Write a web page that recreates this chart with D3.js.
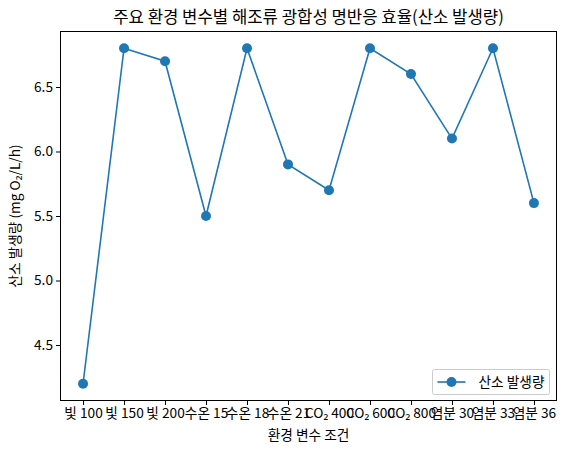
<!DOCTYPE html>
<html>
<head>
<meta charset="utf-8" />
<style>
  body { margin: 0; background: #fff; }
  text { font-family: "Noto Sans CJK KR", "Noto Sans", sans-serif; fill: #000; }
  .tick line { stroke: #000; }
  .domain { display: none; }
</style>
<script src="https://cdn.jsdelivr.net/npm/d3@7"></script>
</head>
<body>
<div id="chart"></div>
<script>
  var conditions = ['빛 100', '빛 150', '빛 200', '수온 15', '수온 18', '수온 21',
                    'CO₂ 400', 'CO₂ 600', 'CO₂ 800', '염분 30', '염분 33', '염분 36'];
  var oxygen = [4.2, 6.8, 6.7, 5.5, 6.8, 5.9, 5.7, 6.8, 6.6, 6.1, 6.8, 5.6];
  var yTicks = [4.5, 5.0, 5.5, 6.0, 6.5];

  var w = 565, h = 454;
  var mLeft = 60.5, mRight = 556.5, mTop = 31.5, mBottom = 400.5;
  var blue = '#1f77b4';

  var svg = d3.select('#chart').append('svg')
    .attr('width', w)
    .attr('height', h);

  // matplotlib style 5% margins
  var n = conditions.length;
  var x = d3.scaleLinear()
    .domain([-0.55, n - 1 + 0.55])
    .range([mLeft, mRight]);

  var ymin = d3.min(oxygen), ymax = d3.max(oxygen), pad = (ymax - ymin) * 0.05;
  var y = d3.scaleLinear()
    .domain([ymin - pad, ymax + pad])
    .range([mBottom, mTop]);

  var xAxis = svg.append('g')
    .attr('transform', 'translate(0,' + mBottom + ')')
    .call(d3.axisBottom(x)
      .tickValues(d3.range(n))
      .tickFormat(i => conditions[i])
      .tickSize(4.5)
      .tickPadding(3));
  xAxis.selectAll('text').style('font-size', '13.7px');

  var yAxis = svg.append('g')
    .attr('transform', 'translate(' + mLeft + ',0)')
    .call(d3.axisLeft(y)
      .tickValues(yTicks)
      .tickFormat(d3.format('.1f'))
      .tickSize(4.5)
      .tickPadding(3));
  yAxis.selectAll('text').style('font-size', '13.7px');

  svg.append('rect')
    .attr('x', mLeft).attr('y', mTop)
    .attr('width', mRight - mLeft).attr('height', mBottom - mTop)
    .attr('fill', 'none').attr('stroke', '#000').attr('stroke-width', 1);

  var line = d3.line()
    .x((d, i) => x(i))
    .y(d => y(d));

  svg.append('path')
    .datum(oxygen)
    .attr('d', line)
    .attr('fill', 'none')
    .attr('stroke', blue)
    .attr('stroke-width', 1.6);

  svg.selectAll('circle.pt')
    .data(oxygen)
    .enter().append('circle')
    .attr('class', 'pt')
    .attr('cx', (d, i) => x(i))
    .attr('cy', d => y(d))
    .attr('r', 5)
    .attr('fill', blue);

  svg.append('text')
    .attr('x', (mLeft + mRight) / 2)
    .attr('y', 22.5)
    .attr('text-anchor', 'middle')
    .style('font-size', '16.7px')
    .text('주요 환경 변수별 해조류 광합성 명반응 효율(산소 발생량)');

  svg.append('text')
    .attr('x', (mLeft + mRight) / 2)
    .attr('y', 440)
    .attr('text-anchor', 'middle')
    .style('font-size', '13.7px')
    .text('환경 변수 조건');

  svg.append('text')
    .attr('transform', 'translate(20,' + ((mTop + mBottom) / 2) + ') rotate(-90)')
    .attr('text-anchor', 'middle')
    .style('font-size', '13.7px')
    .text('산소 발생량 (mg O₂/L/h)');

  // legend
  var lg = svg.append('g').attr('transform', 'translate(432.5,369.5)');
  lg.append('rect')
    .attr('width', 117).attr('height', 25).attr('rx', 2)
    .attr('fill', '#fff').attr('fill-opacity', 0.8)
    .attr('stroke', '#ccc');
  lg.append('line')
    .attr('x1', 5).attr('x2', 33).attr('y1', 12.5).attr('y2', 12.5)
    .attr('stroke', blue).attr('stroke-width', 1.6);
  lg.append('circle')
    .attr('cx', 19).attr('cy', 12.5).attr('r', 5).attr('fill', blue);
  lg.append('text')
    .attr('x', 46).attr('y', 17.5)
    .style('font-size', '13.7px')
    .text('산소 발생량');
</script>
</body>
</html>
